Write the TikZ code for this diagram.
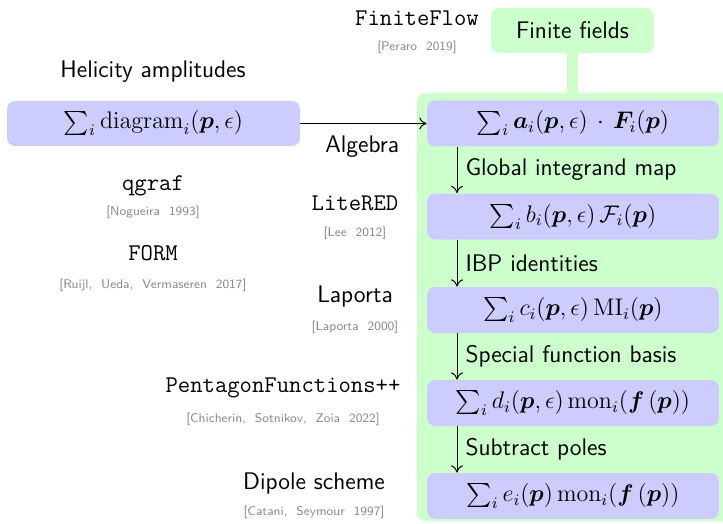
\documentclass[tikz,border=0pt]{standalone}
\usepackage{amsmath,amssymb,bm}
\usetikzlibrary{arrows.meta}
\definecolor{boxblue}{HTML}{CCCCFF}
\definecolor{boxgreen}{HTML}{CCFFCC}
\definecolor{citegray}{HTML}{8A8A8A}
\begin{document}
\begin{tikzpicture}[x=0.5pt,y=-0.5pt,
  mathbox/.style={fill=boxblue,rounded corners=4pt,minimum width=146pt,minimum height=23pt,inner sep=0pt,font=\large},
  greenbox/.style={fill=boxgreen,rounded corners=4pt,inner sep=0pt},
  toolname/.style={font=\large\ttfamily,inner sep=0pt},
  plainname/.style={font=\large\sffamily,inner sep=0pt},
  citetext/.style={font=\sffamily\fontsize{6.3}{7.5}\selectfont,text=citegray,inner sep=0pt},
  steplabel/.style={font=\large\sffamily,inner sep=0pt},
  flow/.style={-{Computer Modern Rightarrow[length=3.6pt,width=6pt]},line width=0.5pt}]
\clip (0,0) rectangle (723,524);
\useasboundingbox (0,0) rectangle (723,524);
% containers
\node[greenbox,minimum width=158pt,minimum height=214pt] (cont) at (575,307) {};
\node[greenbox,minimum width=81.5pt,minimum height=22.5pt,font=\large\sffamily] (ff) at (572.5,30.5) {Finite fields};
\draw[boxgreen,line width=5.5pt] (ff.south) -- (ff.south |- cont.north);
% left box
\node[mathbox,minimum width=146.5pt,minimum height=22.5pt] (diag) at (153.5,123.5) {$\sum_i \mathrm{diagram}_i(\bm{p},\epsilon)$};
% right boxes
\node[mathbox] (a) at (573,123.5) {$\sum_i \bm{a}_i(\bm{p},\epsilon)\,\cdot\,\bm{F}_i(\bm{p})$};
\node[mathbox] (b) at (573,216.5) {$\sum_i b_i(\bm{p},\epsilon)\,\mathcal{F}_i(\bm{p})$};
\node[mathbox] (c) at (573,310) {$\sum_i c_i(\bm{p},\epsilon)\,\mathrm{MI}_i(\bm{p})$};
\node[mathbox] (d) at (573,403) {$\sum_i d_i(\bm{p},\epsilon)\,\mathrm{mon}_i(\bm{f}\,(\bm{p}))$};
\node[mathbox] (e) at (573,496) {$\sum_i e_i(\bm{p})\,\mathrm{mon}_i(\bm{f}\,(\bm{p}))$};
% arrows
\draw[flow] (diag.east) -- node[steplabel,below=6pt,pos=0.49] (alg) {Algebra} (a.west);
\coordinate (ax) at (457,0);
\draw[flow] (ax |- a.south) -- node[steplabel,right=4pt,anchor=west] (l1) {Global integrand map} (ax |- b.north);
\draw[flow] (ax |- b.south) -- node[steplabel,right=4pt,anchor=west] (l2) {IBP identities} (ax |- c.north);
\draw[flow] (ax |- c.south) -- node[steplabel,right=4pt,anchor=west] (l3) {Special function basis} (ax |- d.north);
\draw[flow] (ax |- d.south) -- node[steplabel,right=4pt,anchor=west] (l4) {Subtract poles} (ax |- e.north);
% side labels
\node[plainname] (hel) at (153,72) {Helicity amplitudes};
\node[toolname] (qg) at (153,186) {qgraf};
\node[citetext] (qgc) at (153,212) {[Nogueira\ \ 1993]};
\node[toolname] (form) at (153,253) {FORM};
\node[citetext] (formc) at (153,285) {[Ruijl,\ \ Ueda,\ \ Vermaseren\ \ 2017]};
\node[toolname] (fflow) at (417,18) {FiniteFlow};
\node[citetext] (fflowc) at (417,47) {[Peraro\ \ 2019]};
\node[toolname] (lr) at (355,203) {LiteRED};
\node[citetext] (lrc) at (355,233) {[Lee\ \ 2012]};
\node[plainname] (lap) at (355,296) {Laporta};
\node[citetext] (lapc) at (355,327) {[Laporta\ \ 2000]};
\node[toolname] (pf) at (283,388) {PentagonFunctions++};
\node[citetext] (pfc) at (283,419) {[Chicherin,\ \ Sotnikov,\ \ Zoia\ \ 2022]};
\node[plainname] (dip) at (314,483) {Dipole scheme};
\node[citetext] (dipc) at (314,512) {[Catani,\ \ Seymour\ \ 1997]};
\end{tikzpicture}
\end{document}
